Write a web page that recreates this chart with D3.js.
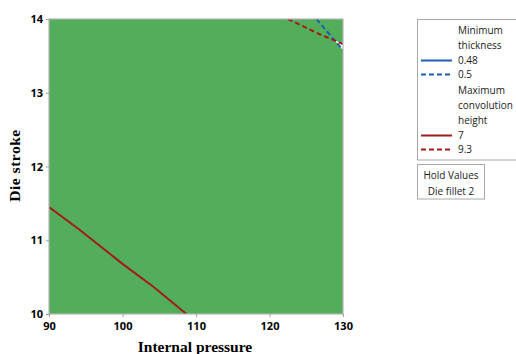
<!DOCTYPE html>
<html><head><meta charset="utf-8">
<script src="https://cdn.jsdelivr.net/npm/d3@7"></script>
<style>body{margin:0;background:#fff}svg{display:block}</style>
</head><body>
<svg id="c" width="516" height="354"></svg>
<script>
const xDomain = [90, 130];
const yDomain = [10, 14];
const xTicks = [90, 100, 110, 120, 130];
const yTicks = [10, 11, 12, 13, 14];
const thick048 = [];
const thick05 = [[126.4, 14.0], [128.0, 13.81], [130.0, 13.58]];
const conv7 = [[90, 11.45], [94.2, 11.14], [100, 10.68], [104.2, 10.37], [108.7, 10.0]];
const conv93 = [[122.5, 14.0], [126.9, 13.79], [130.0, 13.66]];
const whiteRegion = [[128.75, 13.72], [130.0, 13.66], [130.0, 13.58]];
const legendGroups = [
  {title: ["Minimum", "thickness"], items: [{label: "0.48", color: "#1a5fb4", dash: null}, {label: "0.5", color: "#1a5fb4", dash: "5,3"}]},
  {title: ["Maximum", "convolution", "height"], items: [{label: "7", color: "#a31a1a", dash: null}, {label: "9.3", color: "#a31a1a", dash: "5,3"}]}
];
const holdValues = ["Hold Values", "Die fillet  2"];

const svg = d3.select("#c");
const L = 49, R = 343, T = 19, B = 314;
const x = d3.scaleLinear().domain(xDomain).range([L, R]);
const y = d3.scaleLinear().domain(yDomain).range([B, T]);

svg.append("defs").append("clipPath").attr("id", "clip")
  .append("rect").attr("x", L).attr("y", T).attr("width", R - L).attr("height", B - T);

svg.append("rect").attr("x", L).attr("y", T).attr("width", R - L).attr("height", B - T)
  .attr("fill", "#53ae5b");

const g = svg.append("g").attr("clip-path", "url(#clip)");
g.append("path").datum(whiteRegion)
  .attr("d", d3.line().x(d => x(d[0])).y(d => y(d[1])))
  .attr("fill", "#fff");

const line = d3.line().x(d => x(d[0])).y(d => y(d[1]));
[[thick048, "#1a5fb4", null], [thick05, "#1a5fb4", "5,3"], [conv7, "#a31a1a", null], [conv93, "#a31a1a", "5,3"]]
  .forEach(([data, col, dash]) => {
    if (!data.length) return;
    g.append("path").datum(data).attr("d", line).attr("fill", "none")
      .attr("stroke", col).attr("stroke-width", 2).attr("stroke-dasharray", dash);
  });

// frame
svg.append("rect").attr("x", L).attr("y", T).attr("width", R - L).attr("height", B - T)
  .attr("fill", "none").attr("stroke", "#b4b4b4").attr("stroke-width", 1.2);

const xAxis = svg.append("g").attr("transform", `translate(0,${B})`)
  .call(d3.axisBottom(x).tickValues(xTicks).tickSize(3).tickFormat(d3.format("d")));
const yAxis = svg.append("g").attr("transform", `translate(${L},0)`)
  .call(d3.axisLeft(y).tickValues(yTicks).tickSize(3).tickFormat(d3.format("d")));
[xAxis, yAxis].forEach(a => {
  a.select(".domain").remove();
  a.selectAll(".tick line").attr("stroke", "#a0a0a0");
  a.selectAll(".tick text").attr("font-family", "Open Sans").attr("font-weight", "bold")
    .attr("font-size", 11).attr("fill", "#000");
});
xAxis.selectAll(".tick text").attr("dy", "0.95em");
yAxis.selectAll(".tick text").attr("x", -6);

svg.append("text").attr("x", (L + R) / 2 - 1).attr("y", 352).attr("text-anchor", "middle")
  .attr("font-family", "Liberation Serif").attr("font-weight", "bold").attr("font-size", 15.5)
  .text("Internal pressure");
svg.append("text").attr("transform", `translate(20,${(T + B) / 2 - 1}) rotate(-90)`).attr("text-anchor", "middle")
  .attr("font-family", "Liberation Serif").attr("font-weight", "bold").attr("font-size", 15.5)
  .attr("letter-spacing", 0.5)
  .text("Die stroke");

// legend
const lg = svg.append("g");
lg.append("rect").attr("x", 417.5).attr("y", 19.5).attr("width", 110).attr("height", 140.5)
  .attr("fill", "#fff").attr("stroke", "#a8a8a8");
let ly = 34;
const step = 15;
const lfont = "Open Sans", lsize = 10, lcol = "#1a1a1a";
legendGroups.forEach((grp, gi) => {
  if (gi > 0) ly += 2;
  grp.title.forEach(t => {
    lg.append("text").attr("x", 458).attr("y", ly).attr("font-family", lfont).attr("font-size", lsize)
      .attr("fill", lcol).text(t);
    ly += step;
  });
  grp.items.forEach(it => {
    lg.append("line").attr("x1", 421).attr("x2", 452).attr("y1", ly - 3.5).attr("y2", ly - 3.5)
      .attr("stroke", it.color).attr("stroke-width", 2).attr("stroke-dasharray", it.dash);
    lg.append("text").attr("x", 458).attr("y", ly).attr("font-family", lfont).attr("font-size", lsize)
      .attr("fill", lcol).text(it.label);
    ly += 14;
  });
});
lg.append("rect").attr("x", 417.5).attr("y", 164.5).attr("width", 67).attr("height", 34.5)
  .attr("fill", "#fff").attr("stroke", "#a8a8a8");
holdValues.forEach((t, i) => {
  lg.append("text").attr("x", 451).attr("y", 179 + i * 16).attr("text-anchor", "middle")
    .attr("font-family", lfont).attr("font-size", lsize).attr("fill", lcol).text(t);
});
</script>
</body></html>
